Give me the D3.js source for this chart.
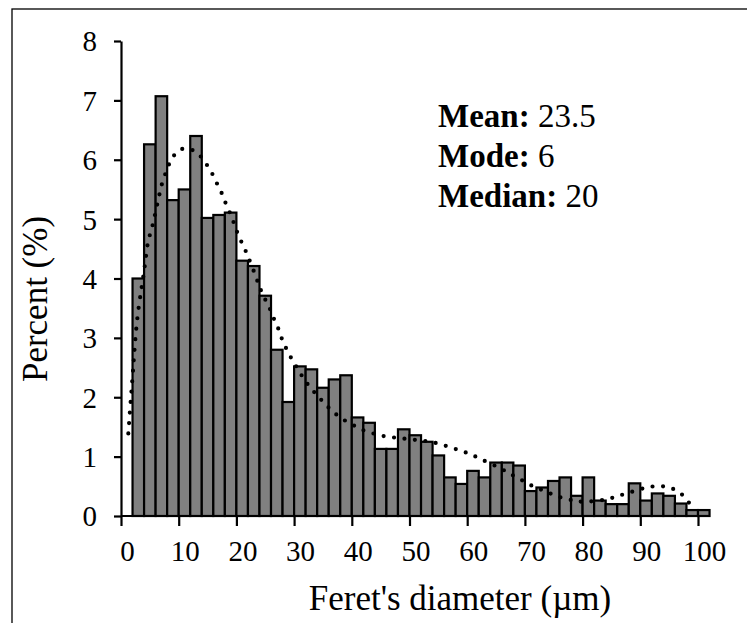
<!DOCTYPE html>
<html><head><meta charset="utf-8">
<script src="https://cdn.jsdelivr.net/npm/d3@7"></script>
<style>body{margin:0;background:#fff;} svg{display:block;}</style>
</head><body>
<script>
// Histogram bins (lower edge of each 2-µm bin)
const binStart = [2,4,6,8,10,12,14,16,18,20,22,24,26,28,30,32,34,36,38,40,42,44,46,48,50,52,54,56,58,60,62,64,66,68,70,72,74,76,78,80,82,84,86,88,90,92,94,96,98,100];
const binWidth = 2;
const percent = [4.00,6.26,7.07,5.32,5.50,6.40,5.02,5.07,5.11,4.30,4.21,3.71,2.80,1.92,2.52,2.47,2.16,2.30,2.37,1.66,1.57,1.13,1.13,1.46,1.36,1.25,1.02,0.65,0.54,0.76,0.65,0.90,0.90,0.85,0.42,0.48,0.59,0.65,0.34,0.65,0.26,0.20,0.20,0.55,0.26,0.38,0.34,0.21,0.10,0.10];
// Dotted trend line
const trendX = [1.27,1.56,1.85,2.13,2.7,3.6,4.2,4.6,5.2,5.7,6.1,6.6,6.9,7.5,8.2,9.0,10.3,12.2,13.7,14.8,15.9,16.7,17.6,18.2,19.1,19.7,20.4,21.3,22.0,23.5,24.1,24.9,25.9,26.5,27.4,27.9,28.8,29.7,30.7,31.7,32.9,34.2,35.5,36.9,38.5,40.3,41.9,43.7,45.6,47.5,49.3,51.2,53.2,55.1,57.0,58.9,60.7,62.5,65.9,67.6,69.4,71.1,72.9,74.6,76.5,78.4,80.1,84.0,85.9,87.6,89.6,91.3,93.2,95.1,96.9,98.2,99.2];
const trendY = [1.39,1.78,2.15,2.51,3.3,3.86,4.25,4.62,4.79,4.98,5.18,5.38,5.54,5.71,5.91,6.06,6.20,6.19,6.08,5.93,5.76,5.58,5.42,5.24,5.07,4.89,4.71,4.53,4.38,4.00,3.83,3.66,3.48,3.31,3.14,2.96,2.79,2.62,2.47,2.30,2.15,2.01,1.87,1.74,1.62,1.53,1.44,1.39,1.34,1.32,1.30,1.28,1.26,1.22,1.16,1.10,1.04,0.95,0.80,0.70,0.61,0.51,0.44,0.37,0.30,0.26,0.23,0.27,0.33,0.38,0.44,0.49,0.51,0.49,0.40,0.27,0.10];
const xTicks = [0,10,20,30,40,50,60,70,80,90,100];
const yTicks = [0,1,2,3,4,5,6,7,8];
const statLabels = ["Mean:","Mode:","Median:"];
const statValues = ["23.5","6","20"];

const W = 747, H = 623;
const font = "'Liberation Serif','Times New Roman',serif";
const svg = d3.select("body").append("svg").attr("width", W).attr("height", H);

// outer frame (cropped at right and bottom)
svg.append("rect").attr("x", 12).attr("y", 9).attr("width", 800).attr("height", 700)
  .attr("fill", "none").attr("stroke", "#000").attr("stroke-width", 1.3);

const x = d3.scaleLinear().domain([0, 100]).range([121, 698]);
const y = d3.scaleLinear().domain([0, 8]).range([516, 41]);

// bars
svg.append("g").selectAll("rect").data(binStart).join("rect")
  .attr("x", d => x(d))
  .attr("y", (d, i) => y(percent[i]))
  .attr("width", d => x(d + binWidth) - x(d))
  .attr("height", (d, i) => y(0) - y(percent[i]))
  .attr("fill", "#808080").attr("stroke", "#000").attr("stroke-width", 2.2);

// trend line (dotted)
const line = d3.line().x(d => x(d[0])).y(d => y(d[1])).curve(d3.curveBasis);
svg.append("path").datum(trendX.map((v, i) => [v, trendY[i]]))
  .attr("d", line).attr("fill", "none").attr("stroke", "#000")
  .attr("stroke-width", 4.2).attr("stroke-linecap", "round")
  .attr("stroke-dasharray", "0,10.5");

// y axis
const yAxis = svg.append("g").attr("transform", "translate(121,0)")
  .call(d3.axisLeft(y).tickValues(yTicks).tickSize(7).tickSizeOuter(0).tickPadding(17).tickFormat(d3.format("d")));
yAxis.select(".domain").attr("stroke-width", 2.2);
yAxis.selectAll(".tick line").attr("stroke-width", 2.2);
yAxis.selectAll("text").attr("font-family", font).attr("font-size", 29).attr("fill", "#000").attr("dy", "0.34em");

// x axis
const xAxis = svg.append("g").attr("transform", "translate(0,516)")
  .call(d3.axisBottom(x).tickValues(xTicks).tickSize(10).tickSizeOuter(0).tickPadding(14).tickFormat(d3.format("d")));
xAxis.select(".domain").attr("d", `M${x(0)},0H${x(102)}`).attr("stroke-width", 2.2);
xAxis.selectAll(".tick line").attr("stroke-width", 2.2);
xAxis.selectAll("text").attr("font-family", font).attr("font-size", 29).attr("fill", "#000").attr("dx", 6);

// axis titles
svg.append("text").attr("transform", "translate(47,299) rotate(-90)")
  .attr("text-anchor", "middle").attr("font-family", font).attr("font-size", 35)
  .text("Percent (%)");
svg.append("text").attr("x", 460).attr("y", 610)
  .attr("text-anchor", "middle").attr("font-family", font).attr("font-size", 35)
  .text("Feret's diameter (µm)");

// stats annotation
const ann = svg.append("g").attr("font-family", font).attr("font-size", 33);
statLabels.forEach((lab, i) => {
  const t = ann.append("text").attr("x", 438).attr("y", 127 + i * 40);
  t.append("tspan").attr("font-weight", "bold").text(lab);
  t.append("tspan").text(" " + statValues[i]);
});
</script>
</body></html>
